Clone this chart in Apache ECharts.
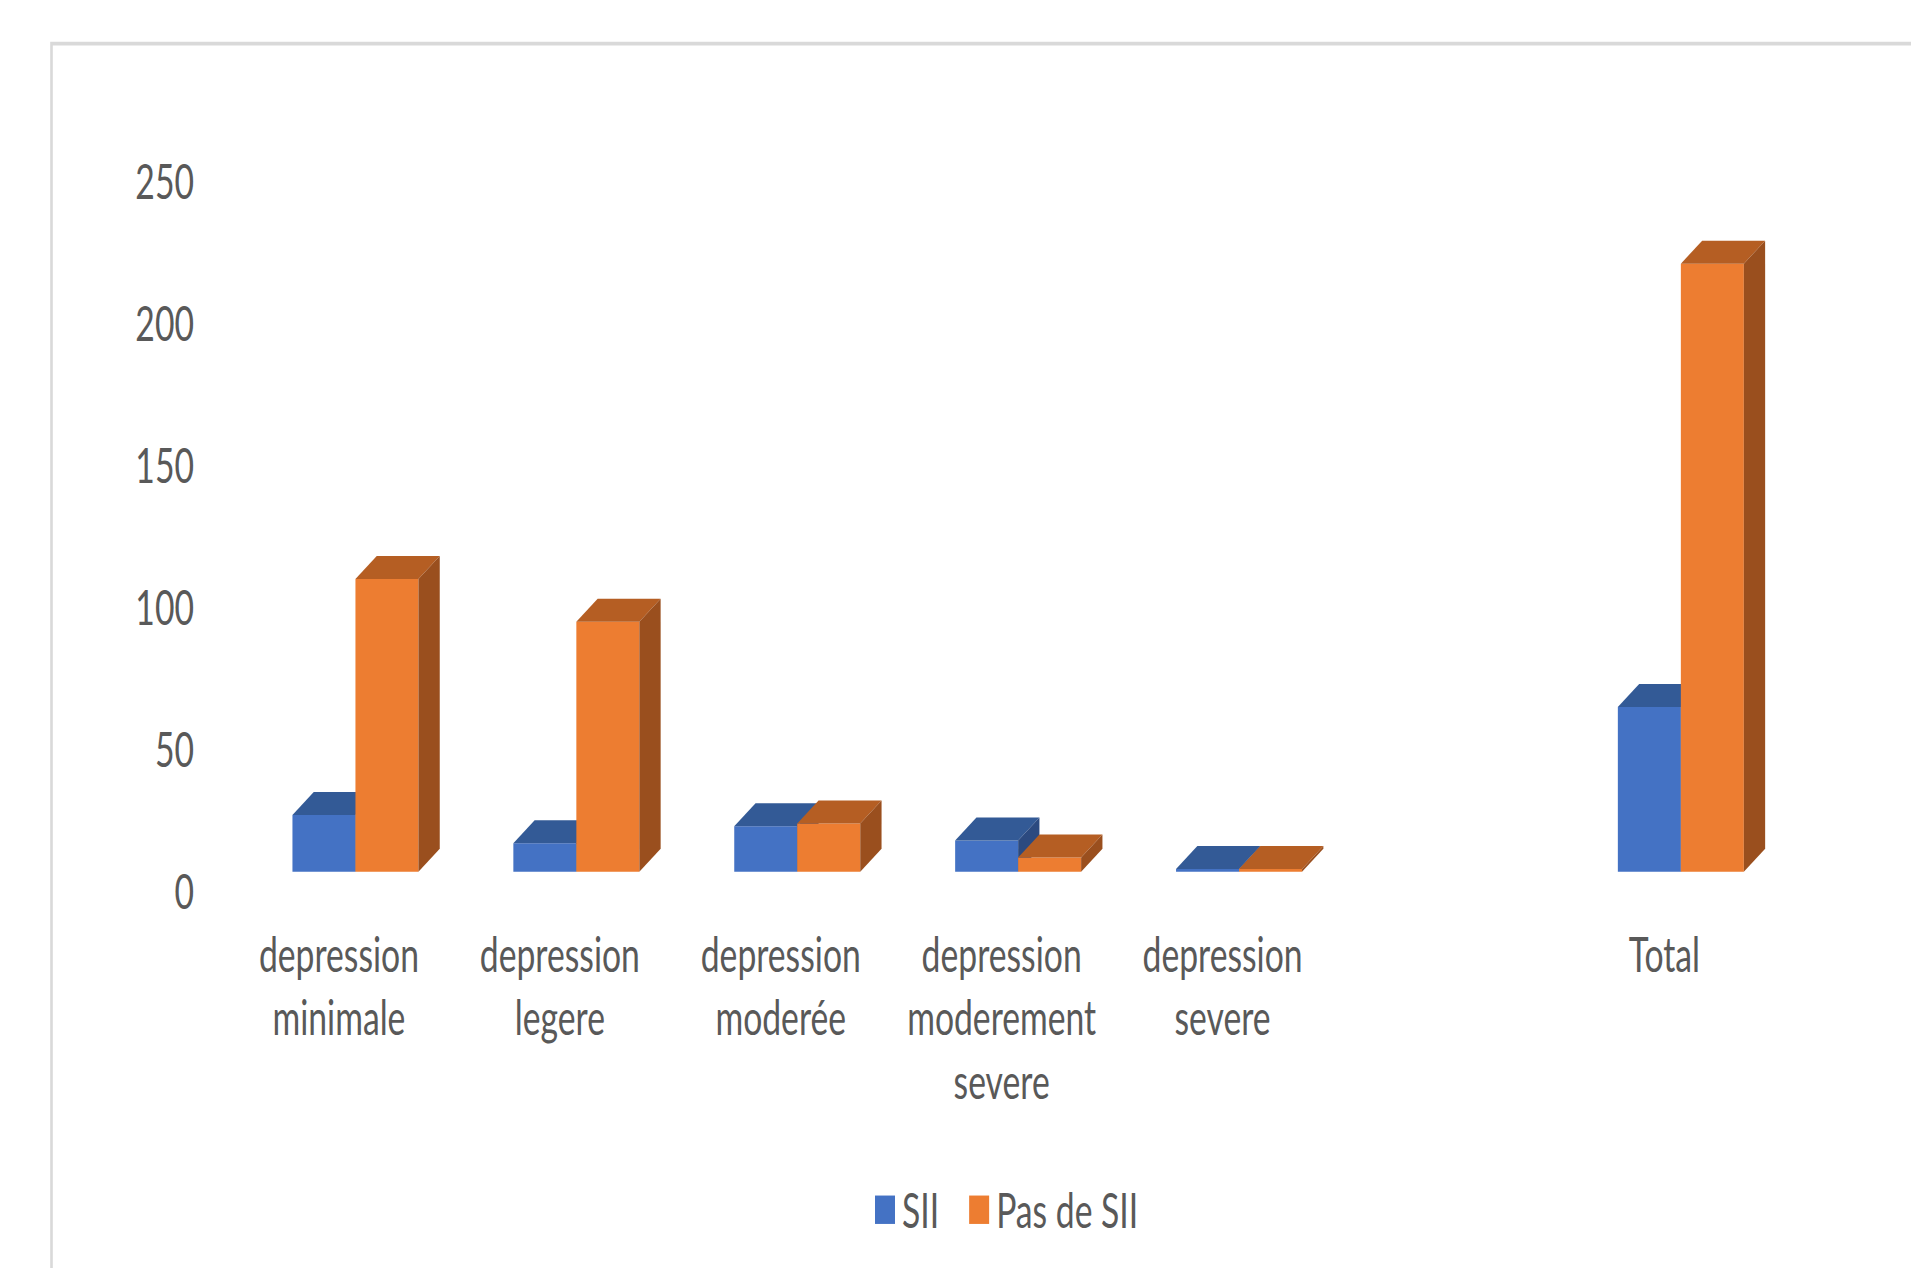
<!DOCTYPE html>
<html>
<head>
<meta charset="utf-8">
<script src="https://cdn.jsdelivr.net/npm/echarts@6/dist/echarts.min.js"></script>
<style>
  html, body { margin: 0; padding: 0; background: #ffffff; }
  #wrap { width: 1911px; height: 1268px; overflow: hidden; position: relative; background: #fff; }
  #chart { width: 1911px; height: 892.96px; transform: scaleY(1.42); transform-origin: 0 0; }
</style>
</head>
<body>
<div id="wrap"><div id="chart"></div></div>
<script>
// ---- data ----
const categories = ['depression\nminimale', 'depression\nlegere', 'depression\nmoderée', 'depression\nmoderement\nsevere', 'depression\nsevere', '', 'Total'];
const seriesNames = ['SII', 'Pas de SII'];
const sii = [20, 10, 16, 11, 1, null, 58];
const pasDeSii = [103, 88, 17, 5, 1, null, 214];
const yMin = 0, yMax = 250, yInterval = 50;

// ---- styling ----
const S = 1.42;              // vertical stretch of the reference picture
const H0 = 1268 / S;
const FONT = 'Lato, "Open Sans", sans-serif';
const TXT = '#595959';
const DX = 21.3, DY = 23 / S;
const BASE = 871.7, TOP = 161.4;

function toData(arr) {
  const out = [];
  arr.forEach((v, i) => { if (v !== null && v !== undefined) out.push([i, v]); });
  return out;
}

function makeRender(side, front, topc, sidec) {
  return function (params, api) {
    const cat = api.value(0), val = api.value(1);
    const top = api.coord([cat, val]);
    const base = api.coord([cat, 0]);
    const band = api.size([1, 0])[0];
    const w = band * 0.2852;
    const x0 = side === 0 ? top[0] - w : top[0];
    const x1 = x0 + w;
    const yT = top[1], yB = base[1];
    return {
      type: 'group',
      children: [
        { type: 'rect', shape: { x: x0, y: yT, width: w, height: Math.max(yB - yT, 0.5) }, style: { fill: front } },
        { type: 'polygon', shape: { points: [[x0, yT], [x0 + DX, yT - DY], [x1 + DX, yT - DY], [x1, yT]] }, style: { fill: topc } },
        { type: 'polygon', shape: { points: [[x1, yT], [x1 + DX, yT - DY], [x1 + DX, yB - DY], [x1, yB]] }, style: { fill: sidec } }
      ]
    };
  };
}

const chart = echarts.init(document.getElementById('chart'), null, { renderer: 'svg' });
chart.setOption({
  backgroundColor: '#ffffff',
  animation: false,
  graphic: [{
    type: 'rect', left: 49, top: 40 / S, z: -10,
    shape: { width: 2000, height: 1268 },
    style: { fill: 'none', stroke: '#D9D9D9', lineWidth: 2.6 }
  }],
  legend: {
    data: seriesNames,
    left: 875, top: (1212 - 12.2) / S - 10, padding: 0,
    itemWidth: 20, itemHeight: 20, itemGap: 30, icon: 'rect',
    textStyle: { fontFamily: FONT, fontSize: 33.7, color: TXT, padding: [0, 0, 0, 2] }
  },
  grid: { left: 245, right: 119.7, top: TOP / S, bottom: H0 - BASE / S, containLabel: false },
  xAxis: {
    type: 'category', data: categories,
    axisLine: { show: false }, axisTick: { show: false }, splitLine: { show: false },
    axisLabel: {
      interval: 0, margin: 35.2, fontFamily: FONT, fontSize: 33.7, color: TXT,
      lineHeight: 63.4 / S, align: 'center', padding: [0, 33, 0, 0]
    }
  },
  yAxis: {
    type: 'value', min: yMin, max: yMax, interval: yInterval,
    axisLine: { show: false }, axisTick: { show: false }, splitLine: { show: false },
    axisLabel: {
      margin: 51, fontFamily: FONT, fontSize: 33.7, color: TXT,
      verticalAlign: 'top', lineHeight: 2 * 19 / S
    }
  },
  series: [
    {
      name: seriesNames[0], type: 'custom', clip: false,
      itemStyle: { color: '#4472C4' },
      encode: { x: 0, y: 1 },
      data: toData(sii),
      renderItem: makeRender(0, '#4472C4', '#335A96', '#2C4A80')
    },
    {
      name: seriesNames[1], type: 'custom', clip: false,
      itemStyle: { color: '#ED7D31' },
      encode: { x: 0, y: 1 },
      data: toData(pasDeSii),
      renderItem: makeRender(1, '#ED7D31', '#B55E23', '#9A4F1E')
    }
  ]
});
</script>
</body>
</html>
